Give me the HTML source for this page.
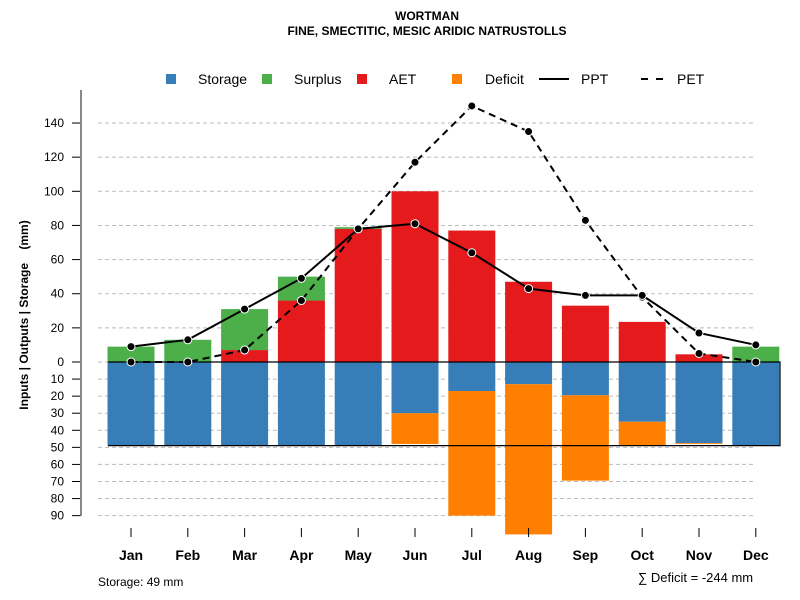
<!DOCTYPE html>
<html><head><meta charset="utf-8"><style>
body{margin:0;background:#fff;}
svg{display:block;font-family:"Liberation Sans",sans-serif;}
</style></head><body>
<svg id="c" width="800" height="600">
<text x="427" y="20" text-anchor="middle" font-size="12" font-weight="bold">WORTMAN</text>
<text x="427" y="35" text-anchor="middle" font-size="12" font-weight="bold">FINE, SMECTITIC, MESIC ARIDIC NATRUSTOLLS</text>
<g id="grid"></g><g id="bars"></g><g id="axes"></g><g id="lines"></g>
<g font-size="14">
<rect x="166" y="74" width="10" height="10" fill="#377eb8"/>
<text x="198" y="84">Storage</text>
<rect x="262" y="74" width="10" height="10" fill="#4daf4a"/>
<text x="294" y="84">Surplus</text>
<rect x="357" y="74" width="10" height="10" fill="#e41a1c"/>
<text x="389" y="84">AET</text>
<rect x="452" y="74" width="10" height="10" fill="#ff7f00"/>
<text x="485" y="84">Deficit</text>
<line x1="539" y1="79" x2="569" y2="79" stroke="#000" stroke-width="2"/>
<text x="581" y="84">PPT</text>
<line x1="641" y1="79" x2="671" y2="79" stroke="#000" stroke-width="2" stroke-dasharray="7,8"/>
<text x="677" y="84">PET</text>
</g>
<text transform="translate(28,315) rotate(-90)" text-anchor="middle" font-size="12" font-weight="bold" style="white-space:pre">Inputs | Outputs | Storage    (mm)</text>
<text x="98" y="586" font-size="12">Storage: 49 mm</text>
<text x="638" y="582" font-size="13">∑ Deficit = -244 mm</text>
</svg>
<script>
const months=["Jan","Feb","Mar","Apr","May","Jun","Jul","Aug","Sep","Oct","Nov","Dec"];
const aet=[0,0,7,36,78,100,77,47,33,23.5,4.5,0];
const surplus=[9,13,24,14,1,0,0,0,0,0,0,9];
const storage=[49,49,49,49,49,30,17,13,19.5,35,47.5,49];
const deficit=[0,0,0,0,0,18,73,88,50,14,0.5,0];
const ppt=[9,13,31,49,78,81,64,43,39,39,17,10];
const pet=[0,0,7,36,78,117,150,135,83,38,5,0];
const posTicks=[0,20,40,60,80,100,120,140];
const negTicks=[10,20,30,40,50,60,70,80,90];
const capacity=49;
const NS="http://www.w3.org/2000/svg";
const y=v=>362-v*1.707;
const x=i=>131+i*56.8;
const bw=47;
function mk(tag,attrs,parent){const e=document.createElementNS(NS,tag);for(const k in attrs)e.setAttribute(k,attrs[k]);document.getElementById(parent).appendChild(e);return e;}
posTicks.concat(negTicks.map(v=>-v)).forEach(v=>{
  const g=mk("line",{x1:98,x2:756,y1:y(v),y2:y(v),stroke:"#bbb","stroke-dasharray":"4,3"},"grid");
  
  
  const t=mk("line",{x1:72,x2:81,y1:y(v),y2:y(v),stroke:"#000"},"axes");
  
  
  const l=mk("text",{x:64,y:y(v)+4,"text-anchor":"end","font-size":"12"},"axes");
  l.textContent=Math.abs(v);
  
  
});
const ax=mk("line",{x1:81,x2:81,y1:90,y2:y(-90),stroke:"#888","stroke-width":2},"axes");


months.forEach((m,i)=>{
  const cx=x(i),x0=cx-bw/2;
  const b=mk("rect",{x:x0,y:y(0),width:bw,height:y(-storage[i])-y(0),fill:"#377eb8"},"bars");
  
  
  if(deficit[i]>0){const d=mk("rect",{x:x0,y:y(-storage[i]),width:bw,height:y(-storage[i]-deficit[i])-y(-storage[i]),fill:"#ff7f00"},"bars");
  
  }
  if(aet[i]>0){const a=mk("rect",{x:x0,y:y(aet[i]),width:bw,height:y(0)-y(aet[i]),fill:"#e41a1c"},"bars");
  
  }
  if(surplus[i]>0){const s=mk("rect",{x:x0,y:y(aet[i]+surplus[i]),width:bw,height:y(aet[i])-y(aet[i]+surplus[i]),fill:"#4daf4a"},"bars");
  
  }
  const t=mk("line",{x1:cx,x2:cx,y1:528,y2:537,stroke:"#000"},"axes");
  
  
  const l=mk("text",{x:cx,y:560,"text-anchor":"middle","font-size":"14","font-weight":"bold"},"axes");
  l.textContent=m;
  
  
});
const box=mk("path",{d:`M108 ${y(0)} H780 V${y(-capacity)} H108`,fill:"none",stroke:"#000","stroke-width":1.2},"bars");


function series(vals,dash,name){
  const p=mk("polyline",{points:vals.map((v,i)=>x(i)+","+y(v)).join(" "),fill:"none",stroke:"#000","stroke-width":2,"stroke-dasharray":dash},"lines");
  
  
  vals.forEach((v,i)=>{const c=mk("circle",{cx:x(i),cy:y(v),r:4,fill:"#000",stroke:"#fff","stroke-width":1},"lines");
  
  });
}
series(pet,"7,5","pet");
series(ppt,"none","ppt");
</script>
</body></html>
